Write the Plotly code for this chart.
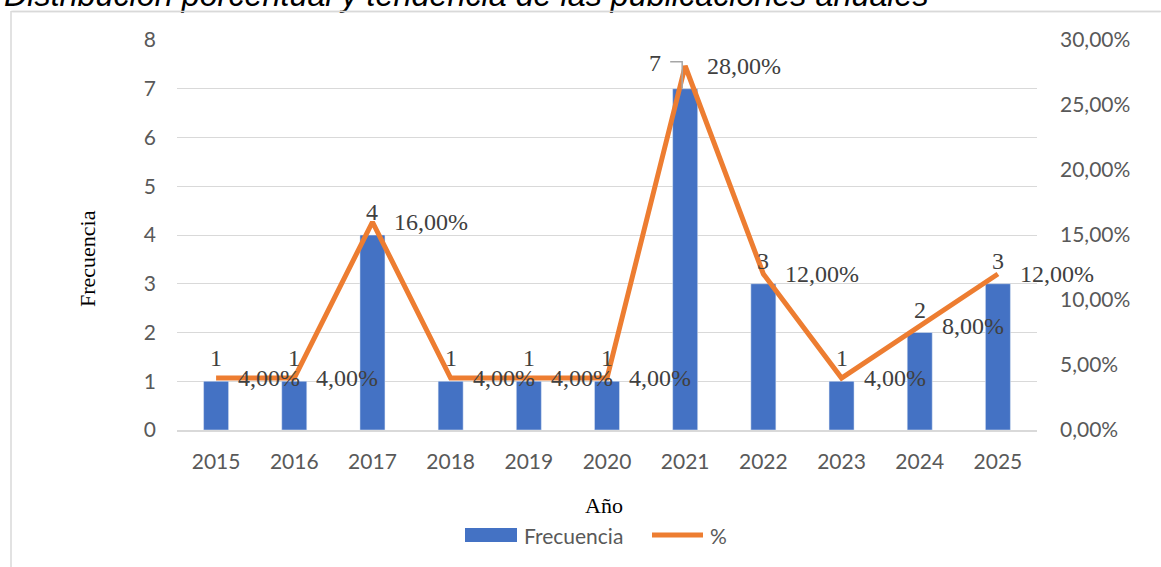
import plotly.graph_objects as go

years = [2015, 2016, 2017, 2018, 2019, 2020, 2021, 2022, 2023, 2024, 2025]
frecuencia = [1, 1, 4, 1, 1, 1, 7, 3, 1, 2, 3]
porcentaje = [0.04, 0.04, 0.16, 0.04, 0.04, 0.04, 0.28, 0.12, 0.04, 0.08, 0.12]

title_text = "Distribución porcentual y tendencia de las publicaciones anuales"
y_title = "Frecuencia"
x_title = "Año"

BLUE = "#4472C4"
ORANGE = "#ED7D31"
GRID = "#D9D9D9"
TICK = "#595959"
LABEL = "#404040"
SERIF = "Liberation Serif, Times New Roman, serif"
SANS = "Lato, Carlito, Calibri, sans-serif"

W, H = 1161, 567
L, R, T, B = 177, 1037, 40, 430


def px(x):
    return (x - L) / (R - L)


def py(y):
    return (B - y) / (B - T)


fig = go.Figure()
fig.add_trace(go.Bar(x=years, y=frecuencia, name="Frecuencia", marker_color=BLUE,
                     width=0.32, yaxis="y"))
fig.add_trace(go.Scatter(x=years, y=porcentaje, name="%", mode="lines",
                         line=dict(color=ORANGE, width=5), yaxis="y2"))

annotations = []
# bar value labels (some moved aside as in original, with leader line)
moved = {2021: (-30, 26)}
for yr, f in zip(years, frecuencia):
    dx, dy = moved.get(yr, (0, 23))
    annotations.append(dict(x=yr, y=f, xref="x", yref="y", text=str(f), showarrow=False,
                            xanchor="center", yanchor="middle", xshift=dx, yshift=dy,
                            font=dict(family=SERIF, size=24, color=LABEL)))
# percent labels
for yr, p in zip(years, porcentaje):
    txt = f"{p*100:.2f}%".replace(".", ",")
    annotations.append(dict(x=yr, y=p, xref="x", yref="y2", text=txt, showarrow=False,
                            xanchor="left", yanchor="middle", xshift=20,
                            font=dict(family=SERIF, size=24, color=LABEL)))

# title (partially cut off at top in the original)
annotations.append(dict(x=px(2), y=py(-5), xref="paper", yref="paper", text=title_text,
                        showarrow=False, xanchor="left", yanchor="middle",
                        font=dict(family="Liberation Sans, Arial", size=32.3, color="#000000",
                                  style="italic")))
# axis titles
annotations.append(dict(x=px(87), y=py(259), xref="paper", yref="paper", text=y_title,
                        showarrow=False, textangle=-90, xanchor="center", yanchor="middle",
                        font=dict(family=SERIF, size=22, color="#000000")))
annotations.append(dict(x=px(604), y=py(505), xref="paper", yref="paper", text=x_title,
                        showarrow=False, xanchor="center", yanchor="middle",
                        font=dict(family=SERIF, size=22, color="#000000")))
# legend labels
annotations.append(dict(x=px(522), y=py(535), xref="paper", yref="paper", text="Frecuencia",
                        showarrow=False, xanchor="left", yanchor="middle",
                        font=dict(family=SANS, size=21, color=TICK)))
annotations.append(dict(x=px(708), y=py(535), xref="paper", yref="paper", text="%",
                        showarrow=False, xanchor="left", yanchor="middle",
                        font=dict(family=SANS, size=21, color=TICK)))
# top edge of the chart frame, drawn as an arrow-less annotation line
annotations.append(dict(x=px(1175), y=py(11.5), xref="paper", yref="paper", text="",
                        showarrow=True, arrowhead=0, arrowwidth=1.5, arrowcolor=GRID,
                        axref="pixel", ayref="pixel", ax=-(1175 - 11), ay=0,
                        standoff=0, startstandoff=0))

shapes = [
    # chart frame (top and left edges; the rest lies outside the picture)
    dict(type="line", xref="paper", yref="paper", x0=px(11), x1=px(1175), y0=py(11.5), y1=py(11.5),
         line=dict(color=GRID, width=1.5), layer="above"),
    dict(type="line", xref="paper", yref="paper", x0=px(11), x1=px(11), y0=py(11), y1=py(580),
         line=dict(color=GRID, width=1.5)),
    # legend symbols
    dict(type="rect", xref="paper", yref="paper", x0=px(465), x1=px(517), y0=py(528), y1=py(542),
         line=dict(width=0), fillcolor=BLUE),
    dict(type="line", xref="paper", yref="paper", x0=px(652), x1=px(703), y0=py(535), y1=py(535),
         line=dict(color=ORANGE, width=5)),
    # leader line for the moved label
    dict(type="path", xref="x", yref="y", xsizemode="pixel", ysizemode="pixel",
         xanchor=2021, yanchor=7, path="M -15,27 L -3,27 L -3,0",
         line=dict(color="#A6A6A6", width=1.5)),
]

fig.update_layout(
    width=W, height=H,
    margin=dict(l=L, r=W - R, t=T, b=H - B, pad=0),
    paper_bgcolor="white", plot_bgcolor="white",
    separators=",.",
    showlegend=False,
    xaxis=dict(range=[2014.5, 2025.5], tickmode="array", tickvals=years,
               ticktext=[str(y) for y in years], showgrid=False, zeroline=False,
               showline=True, linecolor=GRID, linewidth=1.5, ticks="",
               ticklabelstandoff=12, tickfont=dict(family=SANS, size=21, color=TICK)),
    yaxis=dict(range=[0, 8], dtick=1, showgrid=True, gridcolor=GRID, gridwidth=1.2,
               zeroline=False, showline=False, ticks="", ticklabelstandoff=20,
               tickfont=dict(family=SANS, size=21, color=TICK)),
    yaxis2=dict(range=[0, 0.30], dtick=0.05, tickformat=".2%", overlaying="y", side="right",
                showgrid=False, zeroline=False, showline=False, ticks="", ticklabelstandoff=22,
                tickfont=dict(family=SANS, size=21, color=TICK)),
    annotations=annotations,
    shapes=shapes,
)

fig.write_html("out.html", config={"displayModeBar": False},
               post_script="document.body.style.margin='0';document.body.style.overflow='hidden';")
